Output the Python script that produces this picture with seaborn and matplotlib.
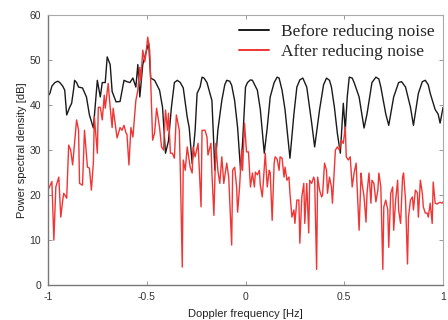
import matplotlib
matplotlib.use('Agg')
import matplotlib.pyplot as plt
import seaborn as sns
import pandas as pd

# black curve: before noise reduction
freq_before = [-1.0, -0.99, -0.98, -0.965, -0.95, -0.94, -0.925, -0.915, -0.905, -0.89, -0.88, -0.87,
               -0.865, -0.855, -0.845, -0.825, -0.805, -0.79, -0.77, -0.75, -0.735, -0.725, -0.71, -0.7,
               -0.685, -0.675, -0.655, -0.635, -0.615, -0.6, -0.585, -0.57, -0.555, -0.545, -0.535, -0.52,
               -0.505, -0.49, -0.48, -0.46, -0.435, -0.42, -0.405, -0.39, -0.375, -0.36, -0.345, -0.33,
               -0.315, -0.295, -0.285, -0.27, -0.255, -0.245, -0.23, -0.22, -0.21, -0.195, -0.17, -0.155,
               -0.14, -0.12, -0.105, -0.095, -0.08, -0.07, -0.055, -0.04, -0.025, -0.015, 0.0, 0.01,
               0.025, 0.035, 0.06, 0.075, 0.095, 0.11, 0.125, 0.145, 0.16, 0.17, 0.185, 0.2, 0.225,
               0.245, 0.26, 0.275, 0.29, 0.31, 0.335, 0.35, 0.375, 0.395, 0.41, 0.425, 0.435, 0.45,
               0.465, 0.48, 0.495, 0.505, 0.515, 0.525, 0.54, 0.55, 0.575, 0.6, 0.615, 0.64, 0.66,
               0.675, 0.685, 0.71, 0.725, 0.75, 0.775, 0.79, 0.81, 0.835, 0.85, 0.875, 0.895, 0.91,
               0.925, 0.935, 0.96, 0.975, 0.985, 1.0]
psd_before = [42.0, 42.6, 44.2, 45.0, 45.3, 45.0, 44.2, 43.3, 37.8, 39.5, 40.4, 43.5,
              45.5, 45.0, 44.0, 43.8, 41.8, 37.8, 34.9, 45.5, 41.8, 45.0, 45.0, 50.7,
              49.0, 43.0, 40.7, 40.8, 45.5, 45.2, 45.0, 46.0, 44.0, 49.0, 41.8, 49.0,
              51.5, 53.8, 46.0, 45.5, 43.3, 39.5, 29.3, 32.0, 39.5, 45.0, 45.5, 45.0,
              43.8, 37.3, 35.0, 27.0, 34.4, 42.6, 44.0, 46.2, 46.0, 45.0, 41.0, 25.5,
              34.4, 41.0, 44.5, 45.5, 45.3, 44.4, 41.0, 35.0, 25.5, 31.5, 44.0, 45.0,
              45.6, 45.5, 43.3, 39.0, 29.3, 35.0, 41.8, 45.0, 46.2, 46.0, 43.3, 39.0, 28.2,
              38.0, 44.0, 45.6, 46.0, 44.0, 36.0, 30.7, 39.0, 44.5, 46.0, 45.5, 44.0, 39.5,
              33.7, 29.3, 40.4, 34.4, 41.8, 46.2, 46.0, 45.0, 41.8, 34.9, 38.0, 45.0, 46.2,
              45.8, 44.0, 38.0, 35.5, 41.8, 45.0, 45.2, 44.0, 39.5, 35.5, 42.6, 45.2, 45.5,
              44.5, 42.6, 39.0, 38.0, 36.0, 39.5]

# red curve: after noise reduction
freq_after = [-1.0, -0.98, -0.97, -0.96, -0.945, -0.935, -0.925, -0.92, -0.905, -0.895, -0.885, -0.875,
              -0.855, -0.845, -0.84, -0.825, -0.815, -0.8, -0.79, -0.78, -0.77, -0.765, -0.75, -0.745,
              -0.735, -0.725, -0.715, -0.71, -0.695, -0.685, -0.675, -0.67, -0.66, -0.65, -0.635, -0.625,
              -0.615, -0.605, -0.6, -0.59, -0.58, -0.57, -0.555, -0.545, -0.535, -0.53, -0.52, -0.51,
              -0.505, -0.495, -0.485, -0.48, -0.47, -0.46, -0.45, -0.435, -0.425, -0.415, -0.405, -0.395,
              -0.39, -0.38, -0.37, -0.36, -0.35, -0.335, -0.33, -0.32, -0.315, -0.305, -0.295, -0.28,
              -0.27, -0.265, -0.255, -0.24, -0.225, -0.22, -0.205, -0.195, -0.19, -0.175, -0.17, -0.16,
              -0.15, -0.14, -0.13, -0.12, -0.11, -0.095, -0.085, -0.07, -0.065, -0.055, -0.045, -0.04,
              -0.03, -0.02, -0.015, -0.005, 0.005, 0.015, 0.025, 0.035, 0.045, 0.05, 0.06, 0.07,
              0.075, 0.085, 0.095, 0.1, 0.11, 0.12, 0.125, 0.135, 0.145, 0.15, 0.16, 0.17,
              0.175, 0.185, 0.195, 0.2, 0.21, 0.22, 0.225, 0.235, 0.245, 0.25, 0.26, 0.27,
              0.275, 0.285, 0.295, 0.3, 0.31, 0.32, 0.325, 0.335, 0.345, 0.35, 0.36, 0.365,
              0.375, 0.385, 0.39, 0.4, 0.41, 0.415, 0.425, 0.435, 0.44, 0.455, 0.465, 0.475,
              0.485, 0.495, 0.505, 0.51, 0.52, 0.53, 0.54, 0.55, 0.56, 0.565, 0.575, 0.585,
              0.59, 0.6, 0.61, 0.615, 0.625, 0.635, 0.64, 0.65, 0.66, 0.67, 0.675, 0.685,
              0.695, 0.7, 0.71, 0.72, 0.725, 0.735, 0.745, 0.75, 0.76, 0.77, 0.775, 0.785,
              0.795, 0.8, 0.81, 0.82, 0.825, 0.835, 0.845, 0.85, 0.86, 0.87, 0.875, 0.885,
              0.895, 0.9, 0.91, 0.92, 0.925, 0.935, 0.945, 0.95, 0.96, 0.97, 0.975, 0.985,
              0.995, 1.0]
psd_after = [21.1, 23.0, 10.0, 21.8, 24.0, 15.1, 18.9, 20.4, 19.3, 31.1, 30.0, 26.7,
             36.7, 34.4, 22.6, 22.2, 34.4, 26.2, 26.0, 21.1, 27.3, 37.4, 29.3, 39.5,
             39.5, 36.7, 42.2, 39.3, 44.8, 39.5, 35.0, 39.3, 36.0, 32.7, 35.0, 34.4,
             35.5, 33.8, 33.5, 26.7, 35.0, 32.9, 41.0, 43.3, 48.4, 45.5, 52.2, 49.6,
             51.0, 55.1, 52.2, 45.5, 32.2, 33.8, 39.3, 35.0, 30.7, 30.0, 38.9, 34.4,
             38.2, 29.3, 29.3, 28.2, 37.8, 34.4, 25.5, 4.0, 27.8, 25.5, 30.7, 26.2,
             24.9, 30.7, 28.5, 31.5, 17.4, 34.4, 34.4, 32.9, 28.9, 31.5, 24.9, 15.5,
             31.5, 25.5, 22.6, 28.5, 22.6, 27.1, 24.0, 8.9, 25.5, 26.2, 21.8, 16.2,
             21.8, 30.0, 25.5, 36.0, 29.6, 29.6, 21.8, 24.9, 21.8, 25.1, 24.5, 25.5,
             22.2, 19.6, 26.2, 29.3, 21.8, 25.5, 25.0, 14.4, 27.1, 28.5, 28.0, 25.5,
             28.5, 28.2, 24.0, 26.2, 23.3, 24.0, 20.4, 15.1, 16.7, 13.7, 18.9, 18.9,
             9.3, 19.6, 22.6, 13.7, 22.6, 11.6, 23.3, 22.6, 24.0, 23.3, 3.5, 24.0,
             21.1, 19.6, 20.0, 27.1, 25.5, 20.4, 24.0, 21.8, 18.2, 30.0, 30.7, 30.0,
             32.2, 31.5, 35.1, 28.5, 27.8, 28.5, 21.8, 25.0, 27.1, 21.8, 12.2, 24.9,
             22.6, 19.6, 14.0, 20.4, 24.9, 18.2, 23.3, 22.6, 18.5, 21.1, 24.9, 21.8,
             3.5, 17.4, 18.9, 16.7, 8.4, 20.4, 21.8, 12.2, 18.9, 23.3, 16.7, 13.7,
             24.0, 24.9, 18.9, 4.7, 15.1, 18.9, 19.6, 16.7, 21.1, 20.5, 15.1, 23.3,
             20.4, 17.4, 16.0, 16.0, 15.1, 18.2, 13.7, 22.9, 18.2, 18.0, 18.2, 18.4,
             18.2, 18.5]

x_ticks = [-1, -0.5, 0, 0.5, 1]
x_tick_labels = ['-1', '-0.5', '0', '0.5', '1']
y_ticks = [0, 10, 20, 30, 40, 50, 60]

df = pd.concat([
    pd.DataFrame({'freq': freq_before, 'psd': psd_before, 'series': 'Before reducing noise'}),
    pd.DataFrame({'freq': freq_after, 'psd': psd_after, 'series': 'After reducing noise'}),
])

sns.set_style('ticks')
plt.rcParams['font.family'] = ['Liberation Sans', 'DejaVu Sans']

fig = plt.figure(figsize=(4.48, 3.2), dpi=100)
ax = fig.add_axes([0.107, 0.109, 0.882, 0.844])

sns.lineplot(data=df, x='freq', y='psd', hue='series', sort=False, estimator=None,
             palette={'Before reducing noise': '#1a1a1a', 'After reducing noise': '#f03535'},
             linewidth=1.0, ax=ax)

ax.set_xlim(-1, 1)
ax.set_ylim(0, 60)
ax.set_xticks(x_ticks)
ax.set_xticklabels(x_tick_labels)
ax.set_yticks(y_ticks)
ax.tick_params(direction='in', length=3, width=0.6, labelsize=7.5,
               top=True, right=True, pad=5)
ax.tick_params(axis='x', colors='#888888', labelcolor='#333333')
ax.tick_params(axis='y', colors='#888888', labelcolor='#333333')
ax.set_xlabel('Doppler frequency [Hz]', fontsize=8, color='#222222', labelpad=5)
ax.set_ylabel('Power spectral density [dB]', fontsize=8, color='#222222', labelpad=2)

for side in ['left', 'bottom']:
    ax.spines[side].set_color('#777777')
    ax.spines[side].set_linewidth(1.0)
for side in ['top', 'right']:
    ax.spines[side].set_color('#aaaaaa')
    ax.spines[side].set_linewidth(0.8)

leg = ax.legend(loc='upper right', frameon=False, handlelength=1.7, handletextpad=0.7,
                labelspacing=0.25, borderaxespad=0.1,
                prop={'family': 'Liberation Serif', 'size': 12.5})
for line in leg.get_lines():
    line.set_linewidth(1.4)

fig.savefig('out.png', dpi=100)
